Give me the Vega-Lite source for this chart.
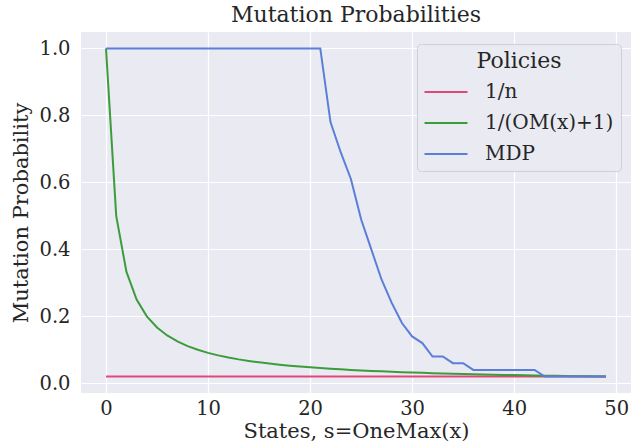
{
  "$schema": "https://vega.github.io/schema/vega-lite/v6.json",
  "width": 550,
  "height": 361,
  "autosize": {"type": "none"},
  "padding": {"left": 81, "top": 32, "right": 1, "bottom": 54},
  "background": "white",
  "title": {"text": "Mutation Probabilities", "font": "DejaVu Serif", "fontSize": 22, "fontWeight": "normal", "color": "#262626", "offset": 5},
  "config": {
    "view": {"fill": "#EAEAF2", "stroke": null},
    "axis": {"domain": false, "ticks": false, "gridColor": "white", "gridWidth": 1.2, "labelFont": "DejaVu Serif", "labelFontSize": 19.5, "labelColor": "#262626", "titleFont": "DejaVu Serif", "titleFontSize": 21, "titleFontWeight": "normal", "titleColor": "#262626"},
    "legend": {"titleFont": "DejaVu Serif", "labelFont": "DejaVu Serif"}
  },
  "data": {"values": [
    {"x":0,"p":0.02,"policy":"1/n"},{"x":1,"p":0.02,"policy":"1/n"},{"x":2,"p":0.02,"policy":"1/n"},{"x":3,"p":0.02,"policy":"1/n"},{"x":4,"p":0.02,"policy":"1/n"},{"x":5,"p":0.02,"policy":"1/n"},{"x":6,"p":0.02,"policy":"1/n"},{"x":7,"p":0.02,"policy":"1/n"},{"x":8,"p":0.02,"policy":"1/n"},{"x":9,"p":0.02,"policy":"1/n"},
    {"x":10,"p":0.02,"policy":"1/n"},{"x":11,"p":0.02,"policy":"1/n"},{"x":12,"p":0.02,"policy":"1/n"},{"x":13,"p":0.02,"policy":"1/n"},{"x":14,"p":0.02,"policy":"1/n"},{"x":15,"p":0.02,"policy":"1/n"},{"x":16,"p":0.02,"policy":"1/n"},{"x":17,"p":0.02,"policy":"1/n"},{"x":18,"p":0.02,"policy":"1/n"},{"x":19,"p":0.02,"policy":"1/n"},
    {"x":20,"p":0.02,"policy":"1/n"},{"x":21,"p":0.02,"policy":"1/n"},{"x":22,"p":0.02,"policy":"1/n"},{"x":23,"p":0.02,"policy":"1/n"},{"x":24,"p":0.02,"policy":"1/n"},{"x":25,"p":0.02,"policy":"1/n"},{"x":26,"p":0.02,"policy":"1/n"},{"x":27,"p":0.02,"policy":"1/n"},{"x":28,"p":0.02,"policy":"1/n"},{"x":29,"p":0.02,"policy":"1/n"},
    {"x":30,"p":0.02,"policy":"1/n"},{"x":31,"p":0.02,"policy":"1/n"},{"x":32,"p":0.02,"policy":"1/n"},{"x":33,"p":0.02,"policy":"1/n"},{"x":34,"p":0.02,"policy":"1/n"},{"x":35,"p":0.02,"policy":"1/n"},{"x":36,"p":0.02,"policy":"1/n"},{"x":37,"p":0.02,"policy":"1/n"},{"x":38,"p":0.02,"policy":"1/n"},{"x":39,"p":0.02,"policy":"1/n"},
    {"x":40,"p":0.02,"policy":"1/n"},{"x":41,"p":0.02,"policy":"1/n"},{"x":42,"p":0.02,"policy":"1/n"},{"x":43,"p":0.02,"policy":"1/n"},{"x":44,"p":0.02,"policy":"1/n"},{"x":45,"p":0.02,"policy":"1/n"},{"x":46,"p":0.02,"policy":"1/n"},{"x":47,"p":0.02,"policy":"1/n"},{"x":48,"p":0.02,"policy":"1/n"},{"x":49,"p":0.02,"policy":"1/n"},
    {"x":0,"p":1.0,"policy":"1/(OM(x)+1)"},{"x":1,"p":0.5,"policy":"1/(OM(x)+1)"},{"x":2,"p":0.3333,"policy":"1/(OM(x)+1)"},{"x":3,"p":0.25,"policy":"1/(OM(x)+1)"},{"x":4,"p":0.2,"policy":"1/(OM(x)+1)"},{"x":5,"p":0.1667,"policy":"1/(OM(x)+1)"},{"x":6,"p":0.1429,"policy":"1/(OM(x)+1)"},{"x":7,"p":0.125,"policy":"1/(OM(x)+1)"},{"x":8,"p":0.1111,"policy":"1/(OM(x)+1)"},{"x":9,"p":0.1,"policy":"1/(OM(x)+1)"},
    {"x":10,"p":0.0909,"policy":"1/(OM(x)+1)"},{"x":11,"p":0.0833,"policy":"1/(OM(x)+1)"},{"x":12,"p":0.0769,"policy":"1/(OM(x)+1)"},{"x":13,"p":0.0714,"policy":"1/(OM(x)+1)"},{"x":14,"p":0.0667,"policy":"1/(OM(x)+1)"},{"x":15,"p":0.0625,"policy":"1/(OM(x)+1)"},{"x":16,"p":0.0588,"policy":"1/(OM(x)+1)"},{"x":17,"p":0.0556,"policy":"1/(OM(x)+1)"},{"x":18,"p":0.0526,"policy":"1/(OM(x)+1)"},{"x":19,"p":0.05,"policy":"1/(OM(x)+1)"},
    {"x":20,"p":0.0476,"policy":"1/(OM(x)+1)"},{"x":21,"p":0.0455,"policy":"1/(OM(x)+1)"},{"x":22,"p":0.0435,"policy":"1/(OM(x)+1)"},{"x":23,"p":0.0417,"policy":"1/(OM(x)+1)"},{"x":24,"p":0.04,"policy":"1/(OM(x)+1)"},{"x":25,"p":0.0385,"policy":"1/(OM(x)+1)"},{"x":26,"p":0.037,"policy":"1/(OM(x)+1)"},{"x":27,"p":0.0357,"policy":"1/(OM(x)+1)"},{"x":28,"p":0.0345,"policy":"1/(OM(x)+1)"},{"x":29,"p":0.0333,"policy":"1/(OM(x)+1)"},
    {"x":30,"p":0.0323,"policy":"1/(OM(x)+1)"},{"x":31,"p":0.0312,"policy":"1/(OM(x)+1)"},{"x":32,"p":0.0303,"policy":"1/(OM(x)+1)"},{"x":33,"p":0.0294,"policy":"1/(OM(x)+1)"},{"x":34,"p":0.0286,"policy":"1/(OM(x)+1)"},{"x":35,"p":0.0278,"policy":"1/(OM(x)+1)"},{"x":36,"p":0.027,"policy":"1/(OM(x)+1)"},{"x":37,"p":0.0263,"policy":"1/(OM(x)+1)"},{"x":38,"p":0.0256,"policy":"1/(OM(x)+1)"},{"x":39,"p":0.025,"policy":"1/(OM(x)+1)"},
    {"x":40,"p":0.0244,"policy":"1/(OM(x)+1)"},{"x":41,"p":0.0238,"policy":"1/(OM(x)+1)"},{"x":42,"p":0.0233,"policy":"1/(OM(x)+1)"},{"x":43,"p":0.0227,"policy":"1/(OM(x)+1)"},{"x":44,"p":0.0222,"policy":"1/(OM(x)+1)"},{"x":45,"p":0.0217,"policy":"1/(OM(x)+1)"},{"x":46,"p":0.0213,"policy":"1/(OM(x)+1)"},{"x":47,"p":0.0208,"policy":"1/(OM(x)+1)"},{"x":48,"p":0.0204,"policy":"1/(OM(x)+1)"},{"x":49,"p":0.02,"policy":"1/(OM(x)+1)"},
    {"x":0,"p":1.0,"policy":"MDP"},{"x":1,"p":1.0,"policy":"MDP"},{"x":2,"p":1.0,"policy":"MDP"},{"x":3,"p":1.0,"policy":"MDP"},{"x":4,"p":1.0,"policy":"MDP"},{"x":5,"p":1.0,"policy":"MDP"},{"x":6,"p":1.0,"policy":"MDP"},{"x":7,"p":1.0,"policy":"MDP"},{"x":8,"p":1.0,"policy":"MDP"},{"x":9,"p":1.0,"policy":"MDP"},
    {"x":10,"p":1.0,"policy":"MDP"},{"x":11,"p":1.0,"policy":"MDP"},{"x":12,"p":1.0,"policy":"MDP"},{"x":13,"p":1.0,"policy":"MDP"},{"x":14,"p":1.0,"policy":"MDP"},{"x":15,"p":1.0,"policy":"MDP"},{"x":16,"p":1.0,"policy":"MDP"},{"x":17,"p":1.0,"policy":"MDP"},{"x":18,"p":1.0,"policy":"MDP"},{"x":19,"p":1.0,"policy":"MDP"},
    {"x":20,"p":1.0,"policy":"MDP"},{"x":21,"p":1.0,"policy":"MDP"},{"x":22,"p":0.78,"policy":"MDP"},{"x":23,"p":0.69,"policy":"MDP"},{"x":24,"p":0.61,"policy":"MDP"},{"x":25,"p":0.49,"policy":"MDP"},{"x":26,"p":0.4,"policy":"MDP"},{"x":27,"p":0.31,"policy":"MDP"},{"x":28,"p":0.24,"policy":"MDP"},{"x":29,"p":0.18,"policy":"MDP"},
    {"x":30,"p":0.14,"policy":"MDP"},{"x":31,"p":0.12,"policy":"MDP"},{"x":32,"p":0.08,"policy":"MDP"},{"x":33,"p":0.08,"policy":"MDP"},{"x":34,"p":0.06,"policy":"MDP"},{"x":35,"p":0.06,"policy":"MDP"},{"x":36,"p":0.04,"policy":"MDP"},{"x":37,"p":0.04,"policy":"MDP"},{"x":38,"p":0.04,"policy":"MDP"},{"x":39,"p":0.04,"policy":"MDP"},
    {"x":40,"p":0.04,"policy":"MDP"},{"x":41,"p":0.04,"policy":"MDP"},{"x":42,"p":0.04,"policy":"MDP"},{"x":43,"p":0.02,"policy":"MDP"},{"x":44,"p":0.02,"policy":"MDP"},{"x":45,"p":0.02,"policy":"MDP"},{"x":46,"p":0.02,"policy":"MDP"},{"x":47,"p":0.02,"policy":"MDP"},{"x":48,"p":0.02,"policy":"MDP"},{"x":49,"p":0.02,"policy":"MDP"}
  ]},
  "mark": {"type": "line", "strokeWidth": 2, "clip": true},
  "encoding": {
    "x": {"field": "x", "type": "quantitative", "scale": {"domain": [-2.45, 51.45], "nice": false, "zero": false}, "axis": {"values": [0, 10, 20, 30, 40, 50], "title": "States, s=OneMax(x)", "labelPadding": 6, "titlePadding": 3}},
    "y": {"field": "p", "type": "quantitative", "scale": {"domain": [-0.029, 1.049], "nice": false, "zero": false}, "axis": {"values": [0, 0.2, 0.4, 0.6, 0.8, 1.0], "format": ".1f", "title": "Mutation Probability", "labelPadding": 11, "titlePadding": 7}},
    "color": {"field": "policy", "type": "nominal", "sort": ["1/n", "1/(OM(x)+1)", "MDP"],
      "scale": {"domain": ["1/n", "1/(OM(x)+1)", "MDP"], "range": ["#e0487a", "#3c9c3c", "#5b7fd9"]},
      "legend": {"title": "Policies", "orient": "none", "legendX": 336, "legendY": 12, "fillColor": "#EAEAF2", "strokeColor": "#cfcfd6", "cornerRadius": 4, "padding": 7, "titleFontSize": 22, "titleFontWeight": "normal", "titleColor": "#262626", "titleAnchor": "middle", "titleAlign": "center", "titlePadding": 8, "labelFontSize": 20, "labelColor": "#262626", "symbolType": "M-2.15,0H2.15", "symbolSize": 400, "symbolStrokeWidth": 2, "symbolOffset": 11, "labelOffset": 28, "rowPadding": 10, "labelLimit": 300}},
    "order": {"field": "x", "type": "quantitative"}
  }
}
